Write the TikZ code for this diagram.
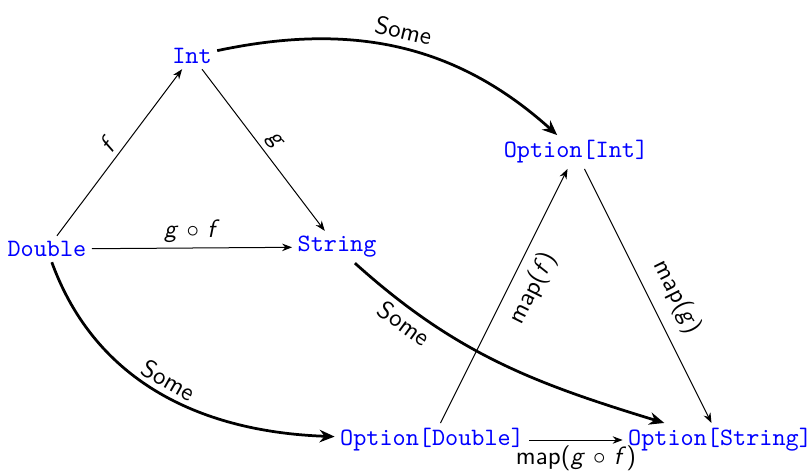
\documentclass[tikz,border=0pt]{standalone}
\usetikzlibrary{arrows.meta}
\newcommand{\vi}[1]{\textit{#1}}
\begin{document}
\begin{tikzpicture}[x=0.4pt,y=0.4pt,
  obj/.style={text=blue, font=\ttfamily, inner sep=2pt},
  thinarr/.style={-{Stealth[length=4pt,width=3pt]}, line width=0.4pt},
  thickarr/.style={-{Stealth[length=6pt,width=5pt]}, line width=1.1pt},
  lab/.style={font=\sffamily, sloped, inner sep=2pt}]
\useasboundingbox (0,0) rectangle (812,475);
\node[obj] (int) at (192,419) {Int};
\node[obj] (dbl) at (47,226) {Double};
\node[obj] (str) at (337,228) {String};
\node[obj] (oint) at (576,323) {Option[Int]};
\node[obj] (odbl) at (432,35) {Option[Double]};
\node[obj] (ostr) at (720,35) {Option[String]};

\draw[thinarr] (dbl) -- node[lab, above] {\vi{f}} (int);
\draw[thinarr] (int) -- node[lab, above] {\vi{g}} (str);
\draw[thinarr] (dbl) -- node[lab, above] {\vi{g} $\circ$ \vi{f}} (str);

\draw[thickarr] (int) to[out=12, in=138] node[lab, above, pos=0.5, inner sep=3pt] {Some} (oint);
\draw[thickarr] (str) to[out=-42, in=163] node[lab, below, pos=0.2] {Some} (ostr);
\draw[thickarr] (dbl) to[out=-70, in=178] node[lab, above, pos=0.5] {Some} (odbl);

\draw[thinarr] (odbl) -- node[lab, below, pos=0.57, inner sep=4pt] {map(\vi{f})} (oint);
\draw[thinarr] (oint) -- node[lab, above, pos=0.55, inner sep=5pt] {map(\vi{g})} (ostr);
\draw[thinarr] (odbl) -- node[lab, below] {map(\vi{g} $\circ$ \vi{f})} (ostr);
\end{tikzpicture}
\end{document}
